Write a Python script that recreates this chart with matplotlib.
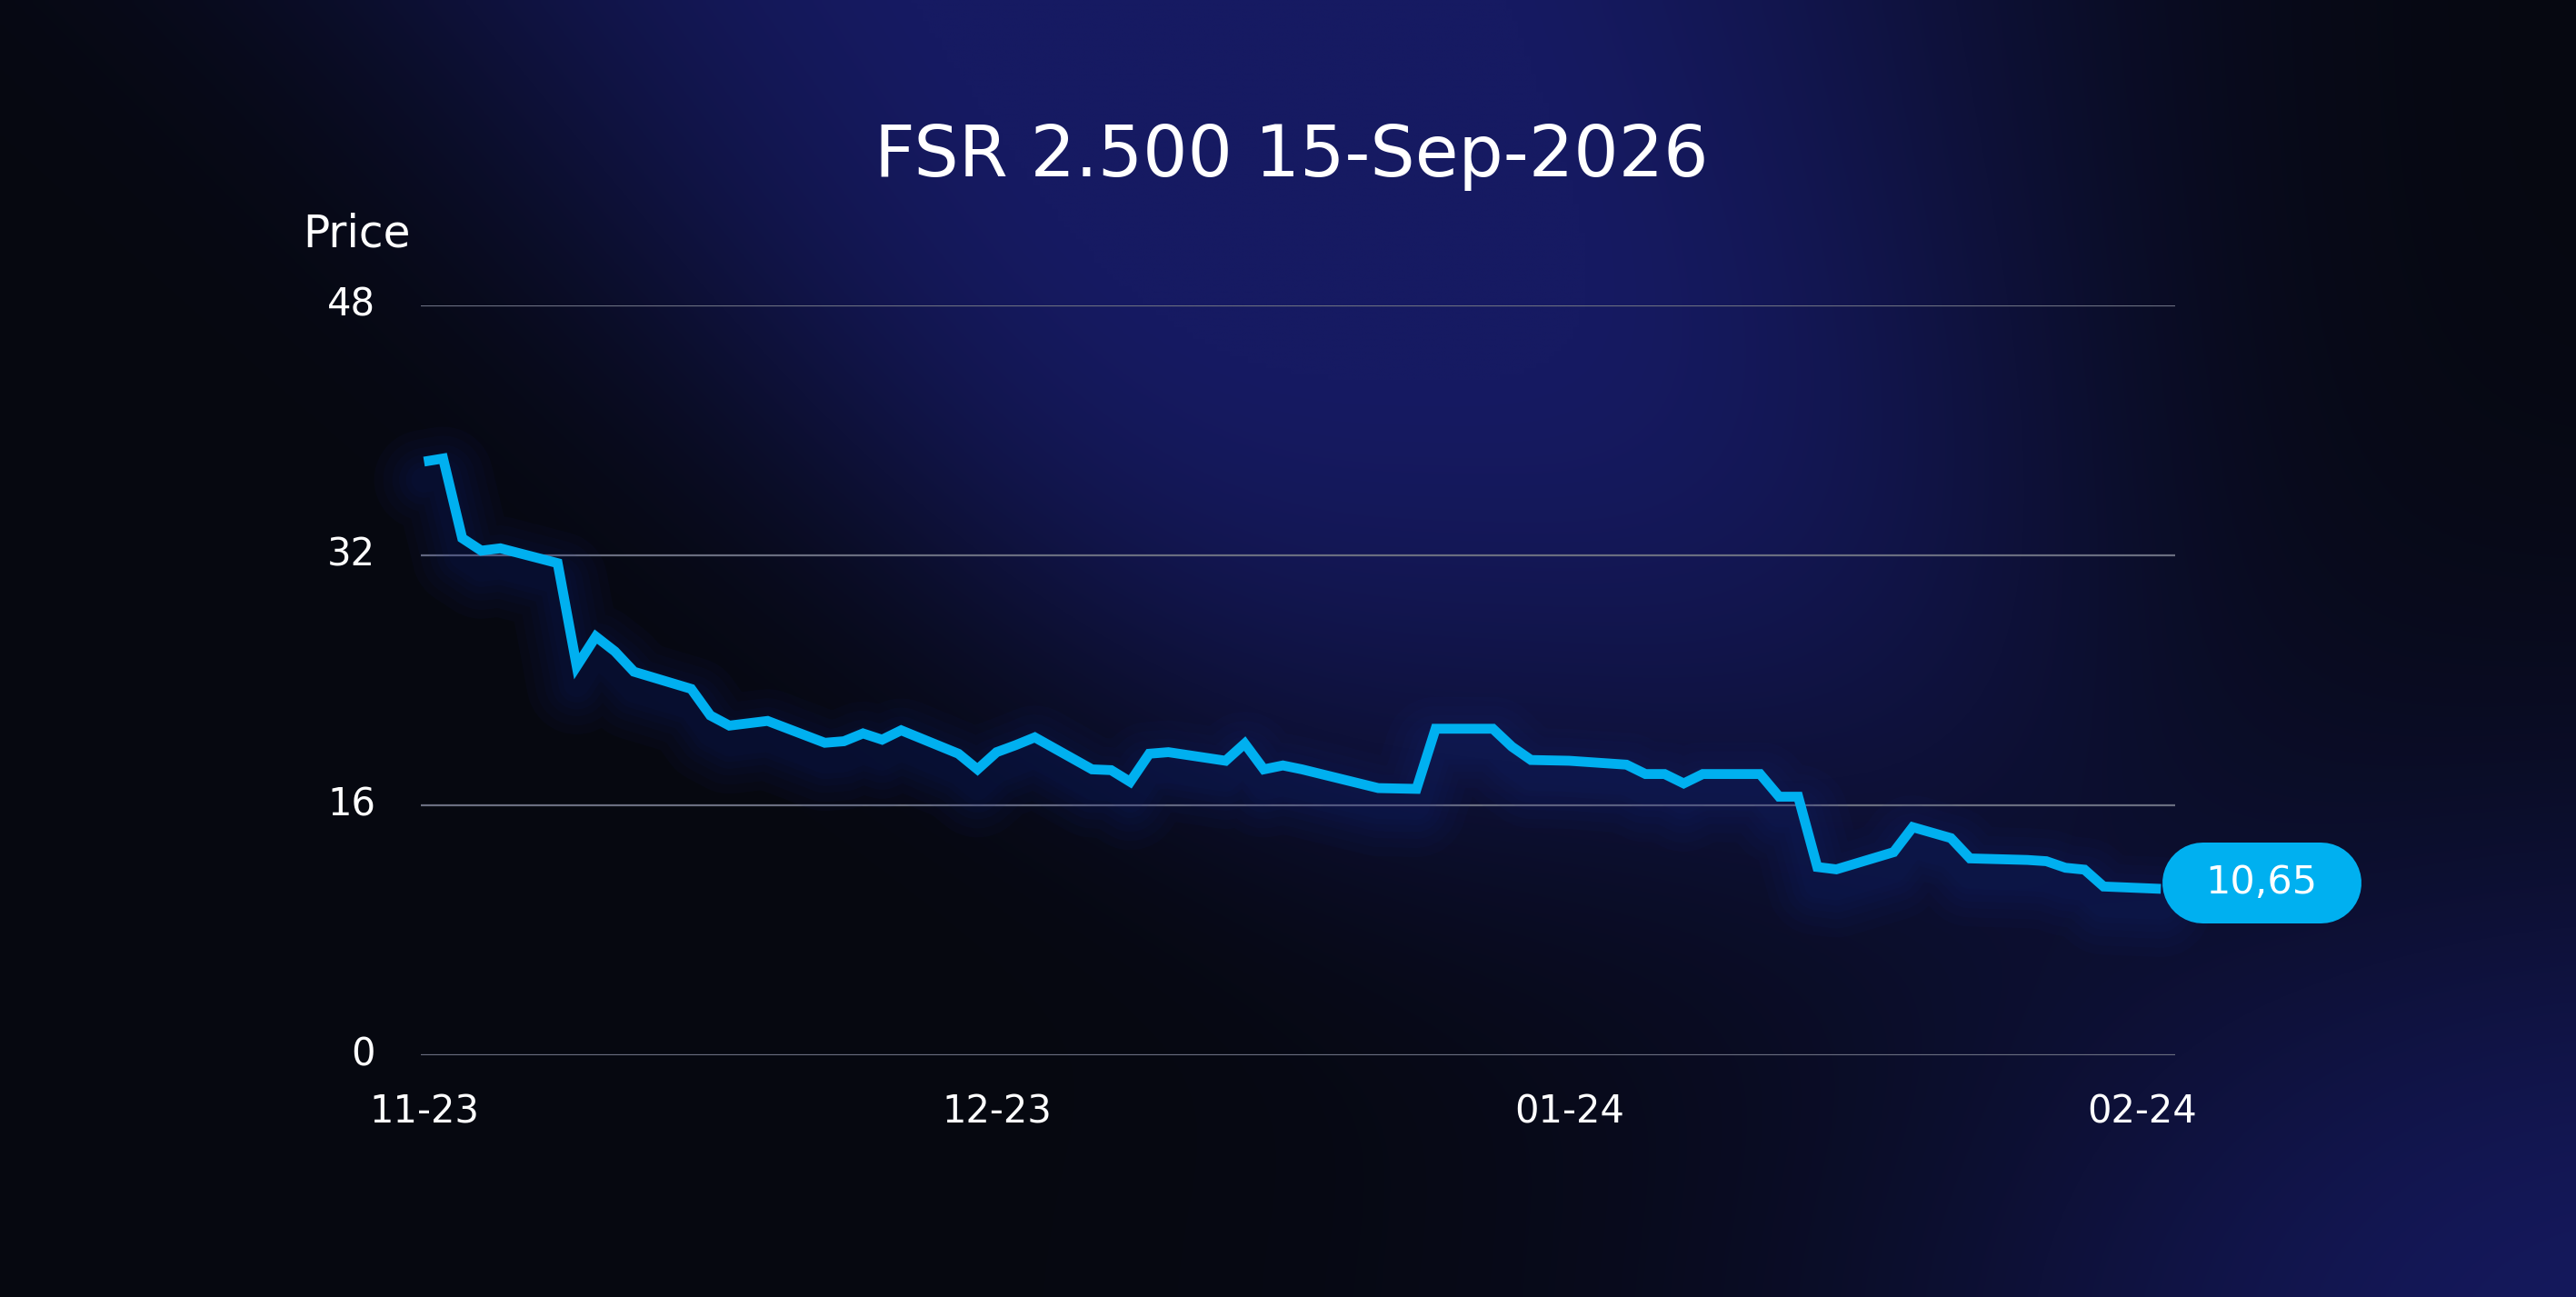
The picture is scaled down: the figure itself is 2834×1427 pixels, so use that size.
import numpy as np
import matplotlib
matplotlib.use('Agg')
import matplotlib.pyplot as plt
import matplotlib.dates as mdates
import matplotlib.transforms as mtransforms
from matplotlib.lines import Line2D
import pandas as pd

plt.rcParams['font.family'] = ['DejaVu Sans']

# price history
dates = ['2023-11-06', '2023-11-07', '2023-11-08', '2023-11-09', '2023-11-10',
         '2023-11-13', '2023-11-14', '2023-11-15', '2023-11-16', '2023-11-17',
         '2023-11-20', '2023-11-21', '2023-11-22', '2023-11-24',
         '2023-11-27', '2023-11-28', '2023-11-29', '2023-11-30', '2023-12-01',
         '2023-12-04', '2023-12-05', '2023-12-06', '2023-12-07', '2023-12-08',
         '2023-12-11', '2023-12-12', '2023-12-13', '2023-12-14', '2023-12-15',
         '2023-12-18', '2023-12-19', '2023-12-20', '2023-12-21', '2023-12-22',
         '2023-12-26', '2023-12-28', '2023-12-29',
         '2024-01-01', '2024-01-02', '2024-01-03', '2024-01-05',
         '2024-01-08', '2024-01-09', '2024-01-10', '2024-01-11', '2024-01-12',
         '2024-01-15', '2024-01-16', '2024-01-17', '2024-01-18', '2024-01-19',
         '2024-01-22', '2024-01-23', '2024-01-25', '2024-01-26',
         '2024-01-29', '2024-01-30', '2024-01-31', '2024-02-01', '2024-02-02',
         '2024-02-05']
prices = [38.0, 38.2, 33.1, 32.3, 32.45,
          31.5, 24.9, 26.8, 25.85, 24.55,
          23.45, 21.75, 21.1, 21.4,
          20.0, 20.1, 20.6, 20.2, 20.8,
          19.3, 18.3, 19.4, 19.85, 20.35,
          18.3, 18.25, 17.5, 19.3, 19.4,
          18.85, 19.95, 18.3, 18.55, 18.3,
          17.1, 17.05, 20.9,
          20.9, 19.75, 18.9, 18.85,
          18.6, 18.0, 18.0, 17.4, 18.0,
          18.0, 16.55, 16.55, 12.05, 11.9,
          13.0, 14.6, 13.9, 12.6,
          12.5, 12.42, 12.0, 11.88, 10.8,
          10.65]
last_label = '10,65'
tick_dates = ['2023-11-06', '2023-12-06', '2024-01-05', '2024-02-04']
y_ticks = [0, 16, 32, 48]
title = 'FSR 2.500 15-Sep-2026'

W, H = 2834, 1427
fig = plt.figure(figsize=(W / 100, H / 100), dpi=100)

# background: dark navy with soft blue glows
bg = fig.add_axes([0, 0, 1, 1])
u, v = np.meshgrid(np.linspace(0, 1, 420), np.linspace(0, 1, 220))
uc = 0.47 + 0.25 * v
sx = 0.32 - 0.18 * v
column = np.exp(-(np.abs(u - uc) / sx) ** 3) * np.exp(-(v / 0.62) ** 4)
corner = 0.95 * np.exp(-((u - 1.03) / 0.3) ** 2 - ((v - 1.05) / 0.42) ** 2)
glow = np.clip(column * 1.05 + corner, 0, 1)
base = np.array([6, 8, 16]) / 255
blue = np.array([22, 26, 98]) / 255
img = base + glow[..., None] * (blue - base)
bg.imshow(img, extent=[0, 1, 0, 1], origin='upper', aspect='auto', interpolation='bilinear')
bg.set_xlim(0, 1)
bg.set_ylim(0, 1)
bg.axis('off')

ax = fig.add_axes([463 / W, 1 - 1161 / H, (2393 - 463) / W, (1161 - 336) / H])
ax.patch.set_alpha(0)

x = pd.to_datetime(dates)
xt = pd.to_datetime(tick_dates)

# soft navy glow under the line
shadow = mtransforms.offset_copy(ax.transData, fig=fig, x=0, y=-20, units='dots')
for lw in [110, 90, 70, 55, 40, 28]:
    ax.plot(x, prices, color='#1a2a8a', lw=lw * 0.72, alpha=0.05, solid_capstyle='round',
            solid_joinstyle='round', transform=shadow, clip_on=False)
ax.plot(x, prices, color='#00b0f0', lw=7.8, solid_joinstyle='miter', solid_capstyle='butt',
        clip_on=False, zorder=5)

ax.set_ylim(0, 48)
ax.set_xlim(x[0] - pd.Timedelta(hours=4), x[-1] + pd.Timedelta(hours=18))
ax.set_yticks(y_ticks)
ax.set_xticks(xt)
ax.xaxis.set_major_formatter(mdates.DateFormatter('%m-%y'))
ax.grid(axis='y', color='#6a6e80', lw=1.6)
ax.tick_params(colors='white', labelsize=30, length=0)
ax.tick_params(axis='y', pad=36)
ax.tick_params(axis='x', pad=30)
for s in ax.spines.values():
    s.set_visible(False)
lift = mtransforms.ScaledTranslation(0, 5 / 100, fig.dpi_scale_trans)
for lab in ax.get_yticklabels():
    lab.set_transform(lab.get_transform() + lift)

fig.text(1421 / W, 1 - 172 / H, title, color='white', fontsize=56, ha='center', va='center')
fig.text(333 / W, 1 - 257 / H, 'Price', color='white', fontsize=35, ha='left', va='center')

# value badge at the last point: a pill drawn as a thick round-capped segment
fig.canvas.draw()
bx, by = ax.transData.transform((mdates.date2num(x[-1]), prices[-1]))
bw, bh = 219, 89
cy = by - 38 + bh / 2
x0, x1 = bx + 1 + bh / 2, bx + 1 + bw - bh / 2
fig.lines.append(Line2D([x0 / W, x1 / W], [cy / H, cy / H], transform=fig.transFigure,
                        color='#00b0f0', lw=bh * 0.72, solid_capstyle='round', zorder=10))
fig.text((bx + 111) / W, (by + 6.5) / H, last_label, color='white', fontsize=31,
         ha='center', va='center', zorder=11)

fig.savefig('out.png', dpi=100)
